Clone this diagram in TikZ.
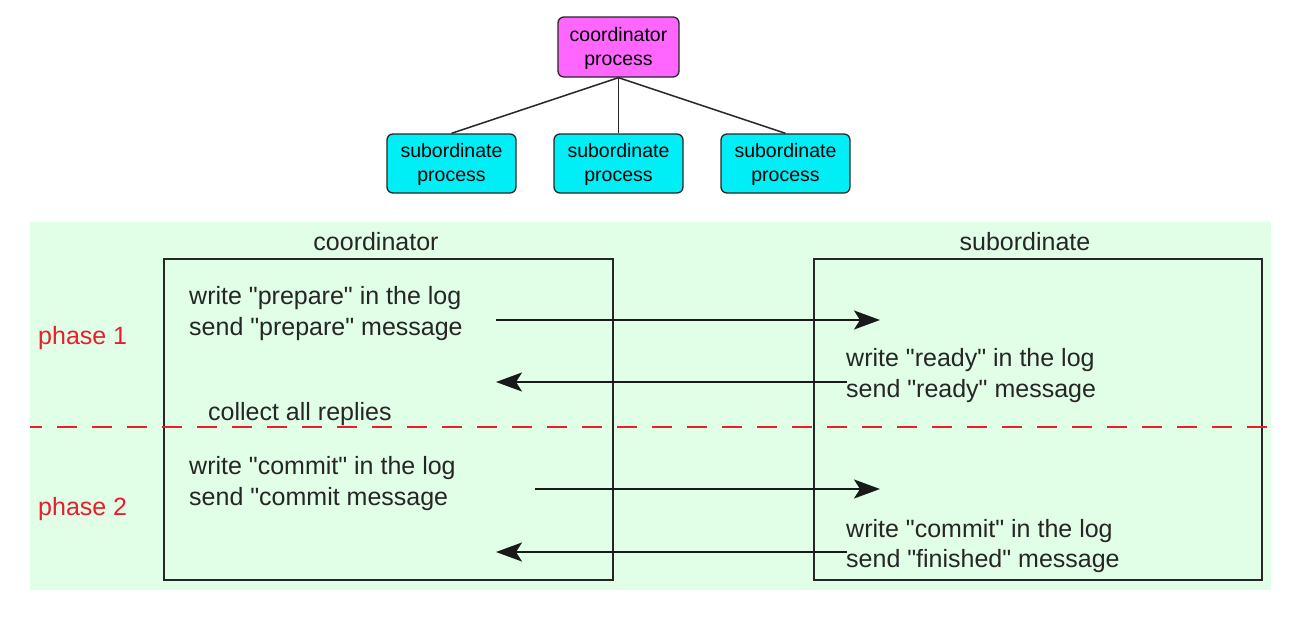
\documentclass[tikz,border=0pt]{standalone}
\usepackage{fontspec}
\setmainfont{Liberation Sans}[Ligatures=TeXOff]
\usetikzlibrary{arrows.meta}
\definecolor{procmag}{RGB}{255,102,255}
\definecolor{proccyan}{RGB}{0,238,245}
\definecolor{bgmint}{RGB}{224,255,230}
\definecolor{phred}{RGB}{232,30,45}
\tikzset{
  toptext/.style={font=\fontsize{19.5pt}{24pt}\selectfont, align=center},
  procbox/.style={draw=black!85, line width=1.3pt, rounded corners=6pt, minimum width=129pt, minimum height=59pt, inner sep=0pt, toptext},
  lane/.style={draw=black!85, line width=1.8pt},
  bodytext/.style={font=\fontsize{25pt}{30pt}\selectfont, text=black!85, anchor=mid west, inner sep=0pt},
  phasetext/.style={font=\fontsize{25pt}{30pt}\selectfont, text=phred, anchor=mid west, inner sep=0pt},
  msg/.style={draw=black!90, line width=1.8pt, -{Stealth[length=26pt,width=19pt,inset=6pt]}},
  link/.style={draw=black!85, line width=1.5pt}
}
\begin{document}
\begin{tikzpicture}[x=1pt,y=-1pt]
\useasboundingbox (0,0) rectangle (1290,616);
% top tree
\node[procbox, fill=procmag, minimum width=121pt, minimum height=60pt] (coord) at (618.5,47) {\strut coordinator\\process};
\node[procbox, fill=proccyan] (s1) at (451.5,163.5) {\strut subordinate\\process};
\node[procbox, fill=proccyan] (s2) at (618.5,163.5) {\strut subordinate\\process};
\node[procbox, fill=proccyan] (s3) at (785.5,163.5) {\strut subordinate\\process};
\draw[link] (coord.south) -- (s1.north);
\draw[link] (coord.south) -- (s2.north);
\draw[link] (coord.south) -- (s3.north);
% background
\fill[bgmint] (30,222) rectangle (1271,590);
% lanes
\draw[lane] (164,259) rectangle (613,580);
\draw[lane] (814,259) rectangle (1262,580);
\node[bodytext, anchor=center] (hc) at (376,242) {coordinator};
\node[bodytext, anchor=center] (hs) at (1025,242) {subordinate};
% phase separator
\coordinate (dl) at (30,427);
\coordinate (dr) at (1271,427);
\draw[phred, line width=2pt, dash pattern=on 20pt off 15pt, dash phase=8pt] (dl) -- (dr);
\node[phasetext] (p1) at (38,342) {phase 1};
\node[phasetext] (p2) at (38,513) {phase 2};
% coordinator texts
\node[bodytext] (c1) at (189,302) {write "prepare" in the log};
\node[bodytext] (c2) at (189,333) {send "prepare" message};
\node[bodytext] (c3) at (208,418) {collect all replies};
\node[bodytext] (c4) at (189,472) {write "commit" in the log};
\node[bodytext] (c5) at (189,503) {send "commit message};
% subordinate texts
\node[bodytext] (r1) at (846,364) {write "ready" in the log};
\node[bodytext] (r2) at (846,395) {send "ready" message};
\node[bodytext] (r3) at (846,535) {write "commit" in the log};
\node[bodytext] (r4) at (846,565) {send "finished" message};
% message arrows
\coordinate (a1s) at (496,320);
\coordinate (a1e) at (880,320);
\coordinate (a2s) at (847,382);
\coordinate (a2e) at (496,382);
\coordinate (a3s) at (535,489);
\coordinate (a3e) at (880,489);
\coordinate (a4s) at (847,552);
\coordinate (a4e) at (496,552);
\draw[msg] (a1s) -- (a1e);
\draw[msg] (a2s) -- (a2e);
\draw[msg] (a3s) -- (a3e);
\draw[msg] (a4s) -- (a4e);
\end{tikzpicture}
\end{document}
